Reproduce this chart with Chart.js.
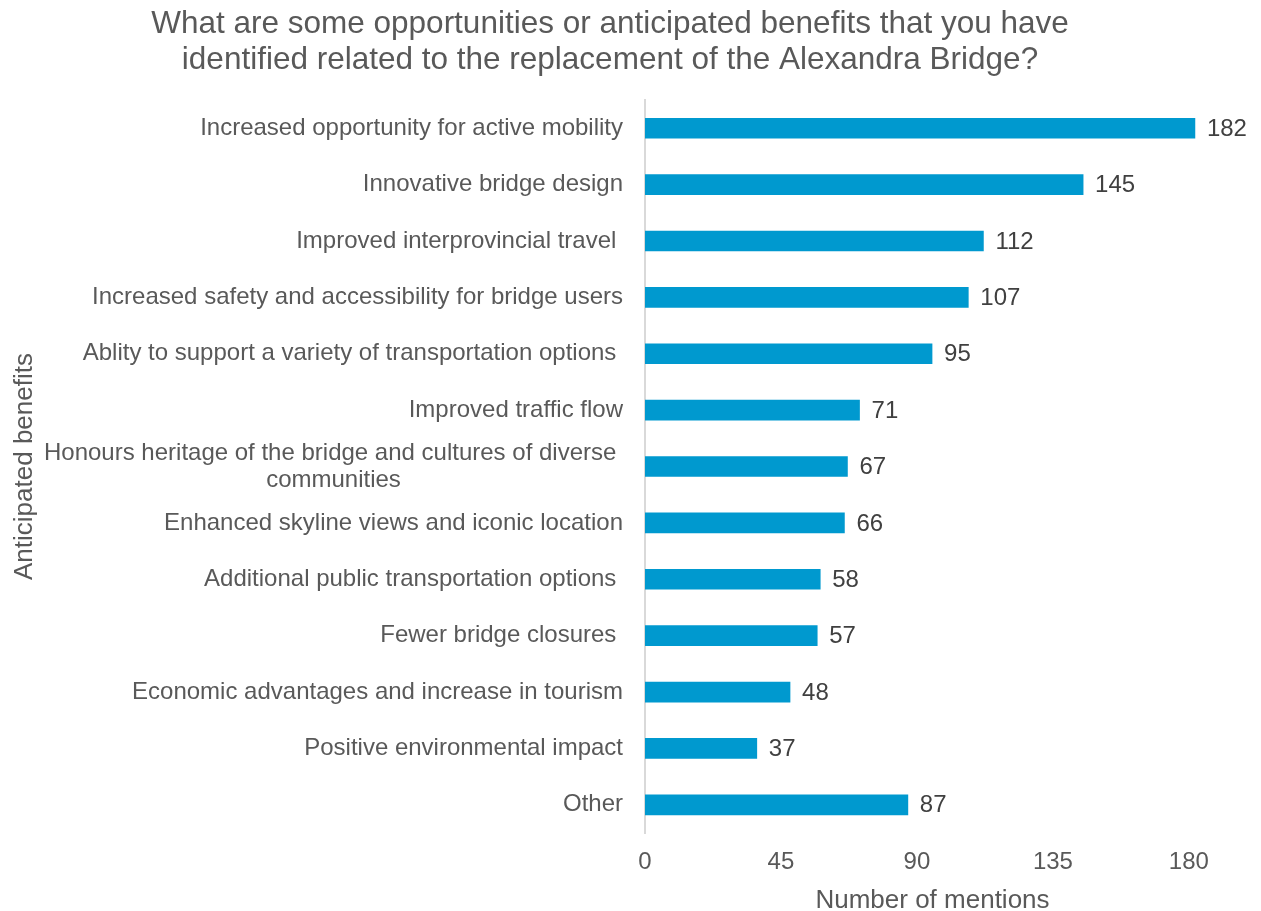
<!DOCTYPE html>
<html>
<head>
<meta charset="utf-8">
<script src="https://cdn.jsdelivr.net/npm/chart.js@4.4.1/dist/chart.umd.min.js"></script>
<style>
  html, body { margin: 0; padding: 0; background: #fff; }
  #wrap { width: 1261px; height: 911px; position: relative; }
</style>
</head>
<body>
<div id="wrap"><canvas id="chartBeneficios"></canvas></div>
<script>
const FONT = '"Liberation Sans", Arial, sans-serif';

const titleLines = [
    'What are some opportunities or anticipated benefits that you have',
    'identified related to the replacement of the Alexandra Bridge?'
];

const categories = [
    'Increased opportunity for active mobility',
    'Innovative bridge design',
    'Improved interprovincial travel ',
    'Increased safety and accessibility for bridge users',
    'Ablity to support a variety of transportation options ',
    'Improved traffic flow',
    ['Honours heritage of the bridge and cultures of diverse ', 'communities'],
    'Enhanced skyline views and iconic location',
    'Additional public transportation options ',
    'Fewer bridge closures ',
    'Economic advantages and increase in tourism',
    'Positive environmental impact',
    'Other'
];

const mentions = [182, 145, 112, 107, 95, 71, 67, 66, 58, 57, 48, 37, 87];

const xTicks = [0, 45, 90, 135, 180];

// category names drawn right-aligned next to the axis, wrapped lines centred in their block
const categoryLabels = {
    id: 'categoryLabels',
    afterDraw(chart) {
        const { ctx, scales: { y }, chartArea } = chart;
        const right = chartArea.left - 22;
        const lineH = 27;
        ctx.save();
        ctx.font = '24px ' + FONT;
        ctx.fillStyle = '#595959';
        ctx.textBaseline = 'middle';
        ctx.textAlign = 'center';
        categories.forEach((lbl, i) => {
            const lines = Array.isArray(lbl) ? lbl : [lbl];
            const w = Math.max(...lines.map(l => ctx.measureText(l).width));
            const cx = right - w / 2;
            const yc = y.getPixelForTick(i);
            lines.forEach((l, j) => {
                ctx.fillText(l, cx, yc + (j - (lines.length - 1) / 2) * lineH);
            });
        });
        ctx.restore();
    }
};

// value printed just past the end of each bar
const valueLabels = {
    id: 'valueLabels',
    afterDatasetsDraw(chart) {
        const { ctx } = chart;
        const meta = chart.getDatasetMeta(0);
        ctx.save();
        ctx.font = '24px ' + FONT;
        ctx.fillStyle = '#404040';
        ctx.textAlign = 'left';
        ctx.textBaseline = 'middle';
        meta.data.forEach((bar, i) => {
            ctx.fillText(String(mentions[i]), bar.x + 12, bar.y + 1);
        });
        ctx.restore();
    }
};

const ctx = document.getElementById('chartBeneficios').getContext('2d');

const chartBeneficios = new Chart(ctx, {
    type: 'bar',
    data: {
        labels: categories,
        datasets: [{
            label: 'Number of mentions',
            data: mentions,
            backgroundColor: '#0099cf',
            borderWidth: 0,
            barThickness: 20
        }]
    },
    options: {
        indexAxis: 'y',
        responsive: true,
        maintainAspectRatio: false,
        animation: false,
        layout: { padding: { left: 0, right: 41, top: 0, bottom: 0 } },
        plugins: {
            legend: { display: false },
            tooltip: { enabled: false },
            title: {
                display: true,
                text: titleLines,
                color: '#595959',
                font: { family: FONT, size: 31.5, weight: 'normal', lineHeight: 1.15 },
                padding: { top: 6, bottom: 21.6 }
            }
        },
        scales: {
            x: {
                min: 0,
                max: 190.3,
                afterBuildTicks: (scale) => { scale.ticks = xTicks.map(v => ({ value: v })); },
                afterFit: (scale) => { scale.height = 78; },
                grid: { display: false, drawTicks: false },
                border: { display: false },
                ticks: {
                    color: '#595959',
                    font: { family: FONT, size: 24 },
                    padding: 15,
                    maxRotation: 0
                },
                title: {
                    display: true,
                    text: 'Number of mentions',
                    color: '#595959',
                    font: { family: FONT, size: 26, lineHeight: 0.75 },
                    padding: { top: 0, bottom: 0 }
                }
            },
            y: {
                afterFit: (scale) => { scale.width = 645; },
                grid: { display: false, drawTicks: false },
                border: { display: true, color: '#d9d9d9', width: 2 },
                ticks: { display: false },
                title: {
                    display: true,
                    text: 'Anticipated benefits',
                    color: '#595959',
                    font: { family: FONT, size: 26 },
                    padding: { top: 9, bottom: 0 }
                }
            }
        }
    },
    plugins: [categoryLabels, valueLabels]
});
</script>
</body>
</html>
